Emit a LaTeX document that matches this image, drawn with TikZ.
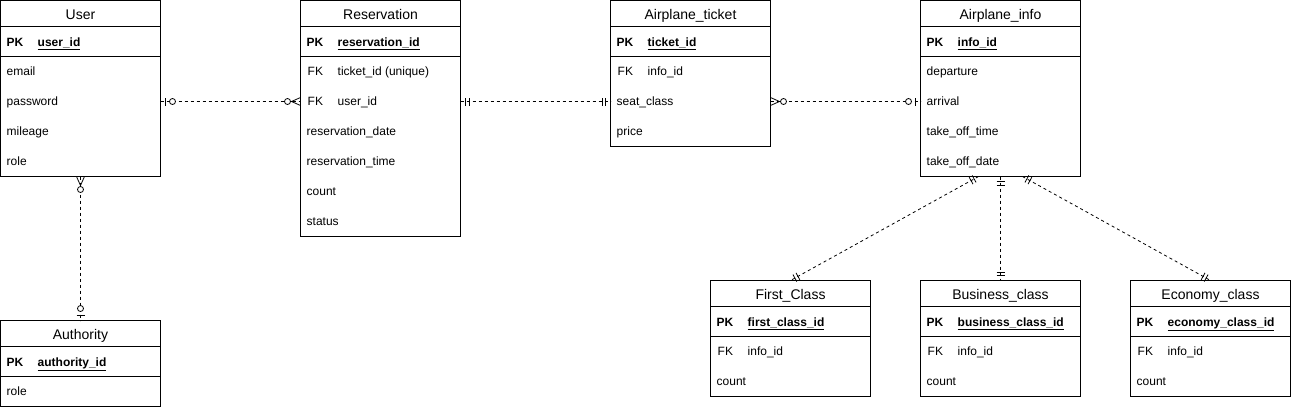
\documentclass[tikz,border=0pt]{standalone}
\usepackage{fontspec}
\setmainfont{Liberation Sans}
\usetikzlibrary{decorations.markings}
\newcommand{\erfontA}{\fontsize{12}{14}\selectfont}
\newcommand{\erfontT}{\fontsize{14}{16}\selectfont}
\tikzset{
  erframe/.style={draw, line width=1pt, anchor=north west, minimum width=160pt, inner sep=0pt, outer sep=0pt},
  errow/.style={anchor=north west, minimum width=160pt, minimum height=30pt, inner sep=0pt, outer sep=0pt},
  ertitle/.style={anchor=base, inner sep=0pt, font=\erfontT},
  ertext/.style={anchor=base west, inner sep=0pt, font=\erfontA},
  erbold/.style={anchor=base west, inner sep=0pt, font=\erfontA\bfseries},
  conn/.style={draw, line width=0.8pt, dash pattern=on 3pt off 3pt},
  mk/.style={solid, line width=0.8pt},
  sOne/.style={postaction={decorate,decoration={markings,
    mark=at position 5pt with {\draw[mk] (0,-4pt) -- (0,4pt);},
    mark=at position 8.5pt with {\draw[mk] (0,-4pt) -- (0,4pt);}}}},
  eOne/.style={postaction={decorate,decoration={markings,
    mark=at position -8.5pt with {\draw[mk] (0,-4pt) -- (0,4pt);},
    mark=at position -5pt with {\draw[mk] (0,-4pt) -- (0,4pt);}}}},
  sZeroOne/.style={postaction={decorate,decoration={markings,
    mark=at position 5pt with {\draw[mk] (0,-4pt) -- (0,4pt);},
    mark=at position 12pt with {\draw[mk,fill=white] (0,0) circle (3pt);}}}},
  eZeroOne/.style={postaction={decorate,decoration={markings,
    mark=at position -12pt with {\draw[mk,fill=white] (0,0) circle (3pt);},
    mark=at position -5pt with {\draw[mk] (0,-4pt) -- (0,4pt);}}}},
  sZeroMany/.style={postaction={decorate,decoration={markings,
    mark=at position 0pt with {\draw[mk] (0,4pt) -- (9pt,0) -- (0,-4pt);},
    mark=at position 13pt with {\draw[mk,fill=white] (0,0) circle (3pt);}}}},
  eZeroMany/.style={postaction={decorate,decoration={markings,
    mark=at position -13pt with {\draw[mk,fill=white] (0,0) circle (3pt);},
    mark=at position 1 with {\draw[mk] (0,4pt) -- (-9pt,0) -- (0,-4pt);}}}},
}
% #1 name, #2 x, #3 y, #4 number of rows, #5 title, #6 primary key, #7 rows key/text
\newcommand{\erbox}[7]{%
  \node[erframe, minimum height={56+30*#4}] (#1) at (#2,#3) {};
  \node[ertitle] (#1-title) at ([yshift=-18.5pt]#1.north) {#5};
  \draw[line width=1pt] ([yshift=-26pt]#1.north west) -- ([yshift=-26pt]#1.north east);
  \draw[line width=1pt] ([yshift=-56pt]#1.north west) -- ([yshift=-56pt]#1.north east);
  \node[erbold] (#1-pk) at ([xshift=6pt,yshift=-45.5pt]#1.north west) {PK};
  \node[erbold] (#1-pkf) at ([xshift=37pt,yshift=-45.5pt]#1.north west) {\underline{#6}};
  \foreach \k/\t [count=\j] in {#7} {
    \node[errow] (#1-\j) at ([yshift={-56pt-30pt*(\j-1)}]#1.north west) {};
    \ifx\k\empty
      \node[ertext] (#1-\j-t) at ([xshift=6pt,yshift=-19pt]#1-\j.north west) {\t};
    \else
      \node[ertext] (#1-\j-k) at ([xshift=7pt,yshift=-19pt]#1-\j.north west) {\k};
      \node[ertext] (#1-\j-t) at ([xshift=37pt,yshift=-19pt]#1-\j.north west) {\t};
    \fi
  }
}
\begin{document}
\begin{tikzpicture}[x=1pt,y=-1pt]
\useasboundingbox (0,0) rectangle (1291,410);
\erbox{user}{0.5}{0.5}{4}{User}{user\_id}{/email,/password,/mileage,/role}
\erbox{res}{300.5}{0.5}{6}{Reservation}{reservation\_id}{FK/ticket\_id (unique),FK/user\_id,/reservation\_date,/reservation\_time,/count,/status}
\erbox{tic}{610.5}{0.5}{3}{Airplane\_ticket}{ticket\_id}{FK/info\_id,/seat\_class,/price}
\erbox{info}{920.5}{0.5}{4}{Airplane\_info}{info\_id}{/departure,/arrival,/take\_off\_time,/take\_off\_date}
\erbox{auth}{0.5}{320.5}{1}{Authority}{authority\_id}{/role}
\erbox{first}{710.5}{280.5}{2}{First\_Class}{first\_class\_id}{FK/info\_id,/count}
\erbox{bus}{920.5}{280.5}{2}{Business\_class}{business\_class\_id}{FK/info\_id,/count}
\erbox{eco}{1130.5}{280.5}{2}{Economy\_class}{economy\_class\_id}{FK/info\_id,/count}

\draw[conn, sZeroOne, eZeroMany] (user-2.east) -- (res-2.west);
\draw[conn, sOne, eOne] (res-2.east) -- (tic-2.west);
\draw[conn, sZeroMany, eZeroOne] (tic-2.east) -- (info-2.west);
\draw[conn, sZeroMany, eZeroOne] (user.south) -- (auth.north);
\draw[conn, sOne, eOne] ([xshift=-22pt]info.south) -- (first.north);
\draw[conn, sOne, eOne] (info.south) -- (bus.north);
\draw[conn, sOne, eOne] ([xshift=22pt]info.south) -- (eco.north);
\end{tikzpicture}
\end{document}
